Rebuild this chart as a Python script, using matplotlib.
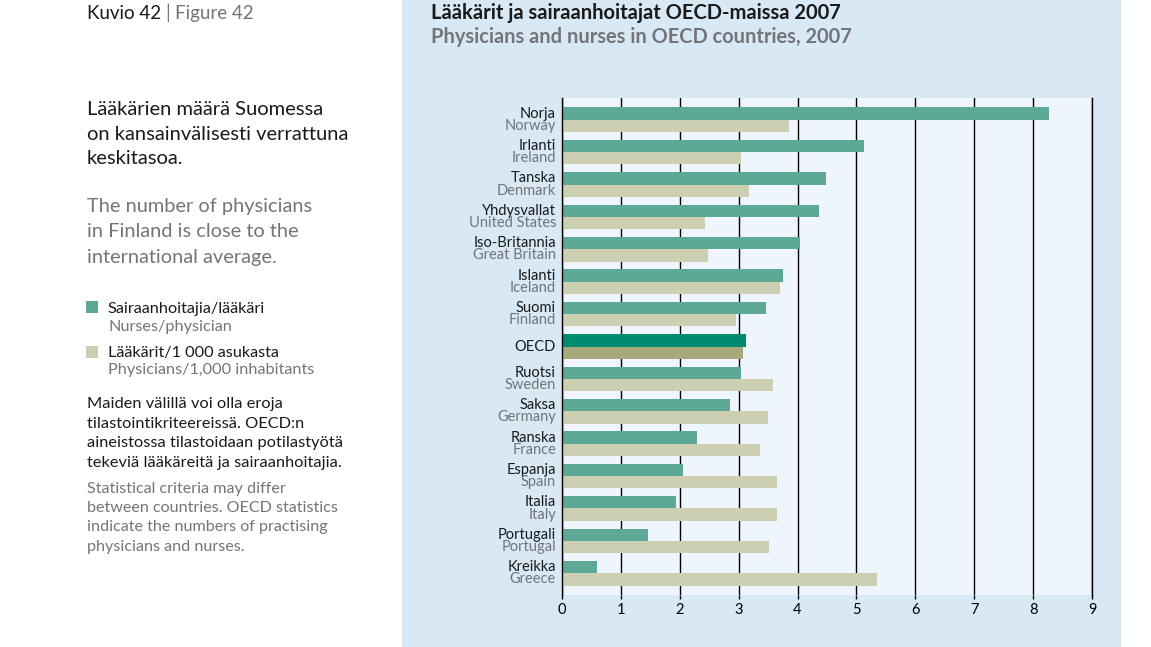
import matplotlib
matplotlib.use("Agg")
import matplotlib.pyplot as plt
from matplotlib.patches import Rectangle

plt.rcParams['font.family'] = ['Lato', 'DejaVu Sans']

# data, top to bottom
maat_fi = ["Norja", "Irlanti", "Tanska", "Yhdysvallat", "Iso-Britannia", "Islanti",
           "Suomi", "OECD", "Ruotsi", "Saksa", "Ranska", "Espanja", "Italia",
           "Portugali", "Kreikka"]
maat_en = ["Norway", "Ireland", "Denmark", "United States", "Great Britain", "Iceland",
           "Finland", "", "Sweden", "Germany", "France", "Spain", "Italy",
           "Portugal", "Greece"]
hoitajat = [8.27, 5.13, 4.49, 4.36, 4.04, 3.76, 3.46, 3.12, 3.04, 2.85, 2.29, 2.06, 1.94, 1.46, 0.59]
laakarit = [3.85, 3.04, 3.17, 2.43, 2.48, 3.71, 2.95, 3.08, 3.58, 3.49, 3.36, 3.65, 3.65, 3.52, 5.35]
xticks = [0, 1, 2, 3, 4, 5, 6, 7, 8, 9]

W, H = 1151, 647
MUSTA = "#1a1a1a"
HARMAA = "#737578"
VIHREA = "#5da995"
BEIGE = "#cccfb1"
OECD_V = "#008b70"
OECD_B = "#a8a97b"
SININEN = "#d8e8f5"
VAALEA = "#eff5fd"

fig = plt.figure(figsize=(W / 100, H / 100), dpi=100)
fig.patch.set_facecolor("white")
fig.patches.append(Rectangle((402 / W, 0), (1121 - 402) / W, 1, transform=fig.transFigure,
                             facecolor=SININEN, edgecolor="none", zorder=-10))


def teksti(x, y, s, **kw):
    fig.text(x / W, 1 - y / H, s, va="baseline", ha="left", **kw)


# left column
teksti(87, 19, "Kuvio 42", fontsize=13.5, color=MUSTA)
teksti(165, 19, "|", fontsize=13.5, color=HARMAA)
teksti(175, 19, "Figure 42", fontsize=13.5, color=HARMAA)

for i, rivi in enumerate(["Lääkärien määrä Suomessa", "on kansainvälisesti verrattuna", "keskitasoa."]):
    teksti(87, 115 + i * 24.5, rivi, fontsize=14.5, color=MUSTA)
for i, rivi in enumerate(["The number of physicians", "in Finland is close to the", "international average."]):
    teksti(87, 212 + i * 25.5, rivi, fontsize=14.4, color=HARMAA)

fig.patches.append(Rectangle((86 / W, 1 - 313 / H), 12 / W, 12 / H, transform=fig.transFigure,
                             facecolor=VIHREA, edgecolor="none"))
fig.patches.append(Rectangle((86 / W, 1 - 358 / H), 12 / W, 12 / H, transform=fig.transFigure,
                             facecolor=BEIGE, edgecolor="none"))
teksti(108, 313, "Sairaanhoitajia/lääkäri", fontsize=11.7, color=MUSTA)
teksti(108, 331, "Nurses/physician", fontsize=11.7, color=HARMAA)
teksti(108, 357, "Lääkärit/1 000 asukasta", fontsize=11.7, color=MUSTA)
teksti(108, 374, "Physicians/1,000 inhabitants", fontsize=11.7, color=HARMAA)

for i, rivi in enumerate(["Maiden välillä voi olla eroja", "tilastointikriteereissä. OECD:n",
                          "aineistossa tilastoidaan potilastyötä", "tekeviä lääkäreitä ja sairaanhoitajia."]):
    teksti(87, 408 + i * 19.5, rivi, fontsize=11.8, color=MUSTA)
for i, rivi in enumerate(["Statistical criteria may differ", "between countries. OECD statistics",
                          "indicate the numbers of practising", "physicians and nurses."]):
    teksti(87, 493 + i * 19.2, rivi, fontsize=11.6, color=HARMAA)

# titles
teksti(431, 19, "Lääkärit ja sairaanhoitajat OECD-maissa 2007", fontsize=14.5, color=MUSTA,
       fontweight="bold")
teksti(431, 43, "Physicians and nurses in OECD countries, 2007", fontsize=14.4, color=HARMAA,
       fontweight="bold")

# chart
ax = fig.add_axes([562 / W, 1 - 595 / H, (1092 - 562) / W, (595 - 98) / H])
ax.set_facecolor(VAALEA)

n = len(maat_fi)
h = 0.38
for i in range(n):
    cv = OECD_V if maat_fi[i] == "OECD" else VIHREA
    cb = OECD_B if maat_fi[i] == "OECD" else BEIGE
    ax.barh(i - h / 2, hoitajat[i], height=h, color=cv, zorder=3)
    ax.barh(i + h / 2, laakarit[i], height=h, color=cb, zorder=3)
    if maat_en[i]:
        ax.text(-0.1, i - h / 2, maat_fi[i], ha="right", va="center", fontsize=10.5, color=MUSTA)
        ax.text(-0.1, i + h / 2, maat_en[i], ha="right", va="center", fontsize=10.5, color=HARMAA)
    else:
        ax.text(-0.1, i, maat_fi[i], ha="right", va="center", fontsize=10.5, color=MUSTA)

ax.set_xlim(0, 9)
ax.set_ylim(n - 0.33, -0.67)
ax.set_xticks(xticks)
ax.set_yticks([])
ax.grid(axis="x", color="black", linewidth=1.0, zorder=1)
ax.tick_params(axis="x", length=3, width=1.0, color="black", labelsize=10.5, pad=3)
for s in ["top", "bottom"]:
    ax.spines[s].set_visible(False)
for s in ["left", "right"]:
    ax.spines[s].set_linewidth(1.0)
    ax.spines[s].set_zorder(4)

fig.savefig("out.png", dpi=100)
